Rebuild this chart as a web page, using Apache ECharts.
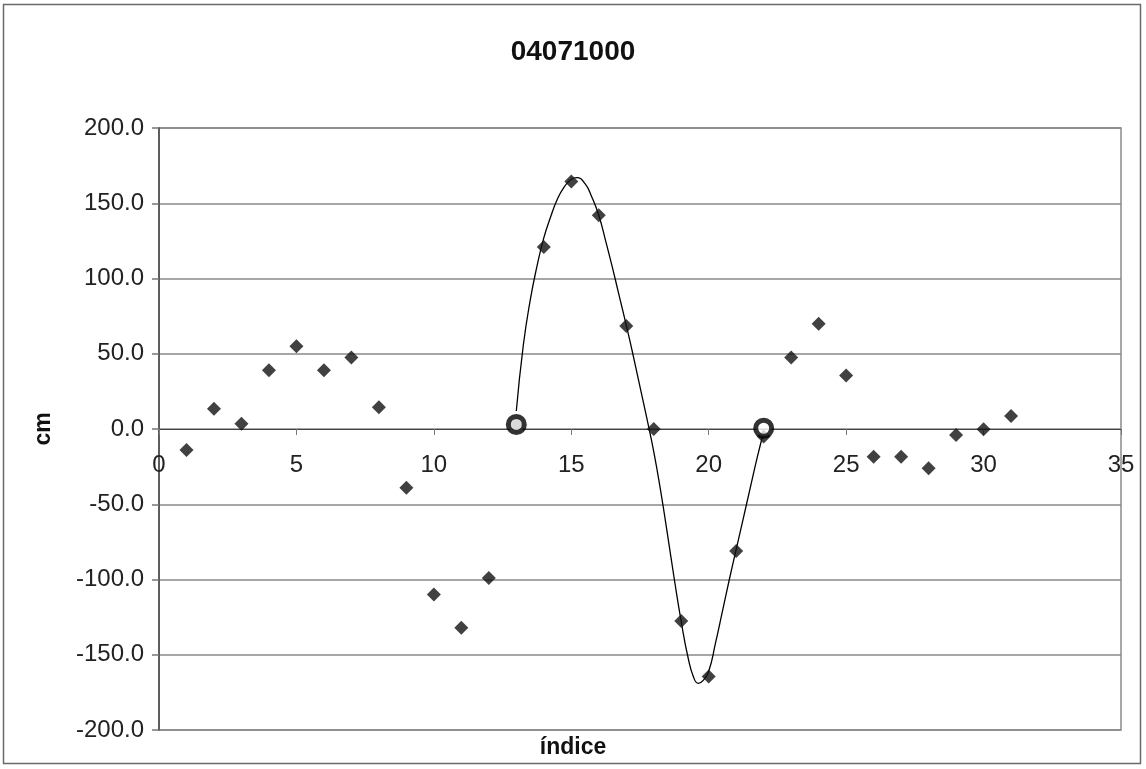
<!DOCTYPE html>
<html>
<head>
<meta charset="utf-8">
<title>04071000</title>
<script src="https://cdn.jsdelivr.net/npm/echarts@6/dist/echarts.min.js"></script>
<style>
  html, body { margin: 0; padding: 0; background: #fff; }
  #chart { width: 1146px; height: 769px; }
</style>
</head>
<body>
<div id="chart"></div>
<script>
// Observed values per index (cm)
const indices = [1, 2, 3, 4, 5, 6, 7, 8, 9, 10, 11, 12, 13, 14, 15, 16,
                 17, 18, 19, 20, 21, 22, 23, 24, 25, 26, 27, 28, 29, 30, 31];
const values = [-14, 13.5, 3.5, 39, 55, 39, 47.5, 14.5, -39, -110, -132, -99, 3, 121, 164.5, 142,
                68.5, 0, -127.5, -164.5, -81, -5, 47.5, 70, 35.5, -18.5, -18.5, -26, -4, -0.2, 8.6];

// Endpoints of the fitted wave
const markX = [13, 22];
const markY = [3, 0.5];

// Fitted wave between the two endpoints
const curveX = [13.0, 13.25, 13.5, 13.75, 14.0, 14.25, 14.5, 14.75, 15.0, 15.2, 15.5, 15.75,
                16.0, 16.25, 16.5, 16.75, 17.0, 17.25, 17.5, 17.75, 18.0, 18.25, 18.5, 18.75,
                19.0, 19.25, 19.45, 19.62, 19.8, 20.0, 20.25, 20.5, 20.75, 21.0, 21.25, 21.5,
                21.75, 22.0];
const curveY = [12, 55, 85, 108, 127, 141, 153, 161, 166, 167, 163, 154,
                142, 125, 107, 88, 69, 49, 28, 7, -15, -41, -70, -100,
                -128, -152, -165, -169, -167, -161, -142, -121, -100, -80, -60, -40,
                -20, -2];

// Axis ticks
const xTicks = [0, 5, 10, 15, 20, 25, 30, 35];
const yTicks = [-200, -150, -100, -50, 0, 50, 100, 150, 200];

const FONT = '"Liberation Sans", Arial, sans-serif';

const chart = echarts.init(document.getElementById('chart'), null, { renderer: 'canvas' });

const pts = indices.map((x, i) => [x, values[i]]);
const marks = markX.map((x, i) => [x, markY[i]]);
const curve = curveX.map((x, i) => [x, curveY[i]]);

chart.setOption({
  animation: false,
  backgroundColor: '#fff',
  title: {
    text: '04071000',
    left: 'center',
    top: 33,
    textStyle: { fontFamily: FONT, fontSize: 28, fontWeight: 'bold', color: '#111' }
  },
  grid: {
    left: 159, right: 25, top: 128, bottom: 39,
    show: true, borderColor: '#8c8c8c', borderWidth: 1.5, backgroundColor: '#fff'
  },
  xAxis: {
    type: 'value',
    min: xTicks[0],
    max: xTicks[xTicks.length - 1],
    interval: xTicks[1] - xTicks[0],
    axisLine: { show: true, onZero: true, lineStyle: { color: '#444', width: 1.2 } },
    axisTick: { show: true, inside: false, length: 6, lineStyle: { color: '#777', width: 1 } },
    // tick labels sit just under the zero line
    axisLabel: { fontFamily: FONT, fontSize: 24, color: '#222', margin: -277 },
    splitLine: { show: false }
  },
  yAxis: {
    type: 'value',
    min: yTicks[0],
    max: yTicks[yTicks.length - 1],
    interval: yTicks[1] - yTicks[0],
    name: 'cm',
    nameLocation: 'middle',
    nameRotate: 90,
    nameGap: 104,
    nameTextStyle: { fontFamily: FONT, fontSize: 23, fontWeight: 'bold', color: '#111' },
    axisLine: { show: true, onZero: false, lineStyle: { color: '#444', width: 1.5 } },
    axisTick: { show: true, inside: false, length: 7, lineStyle: { color: '#777', width: 1.5 } },
    axisLabel: {
      fontFamily: FONT, fontSize: 24, color: '#222', margin: 15,
      formatter: v => v.toFixed(1)
    },
    splitLine: { show: true, lineStyle: { color: '#888', width: 1.5 } }
  },
  graphic: [
    {
      type: 'rect',
      shape: { x: 3.5, y: 4.5, width: 1137, height: 759 },
      style: { fill: 'none', stroke: '#6a6a6a', lineWidth: 1.5 },
      z: 100
    },
    {
      type: 'text',
      x: 573, y: 748,
      style: {
        text: 'índice', fontFamily: FONT, fontSize: 23, fontWeight: 'bold',
        fill: '#111', align: 'center', verticalAlign: 'middle'
      }
    }
  ],
  series: [
    {
      name: 'ajuste',
      type: 'line',
      data: curve,
      smooth: 0.5,
      showSymbol: false,
      symbol: 'none',
      lineStyle: { color: '#000', width: 1.3 },
      z: 2
    },
    {
      name: 'cm',
      type: 'scatter',
      data: pts,
      symbol: 'diamond',
      symbolSize: 14,
      itemStyle: { color: '#111' },
      z: 3
    },
    {
      name: 'extremos',
      type: 'scatter',
      data: marks,
      symbol: 'circle',
      symbolSize: 16,
      itemStyle: { color: '#fff', borderColor: '#000', borderWidth: 5 },
      z: 4
    }
  ]
});
</script>
</body>
</html>
